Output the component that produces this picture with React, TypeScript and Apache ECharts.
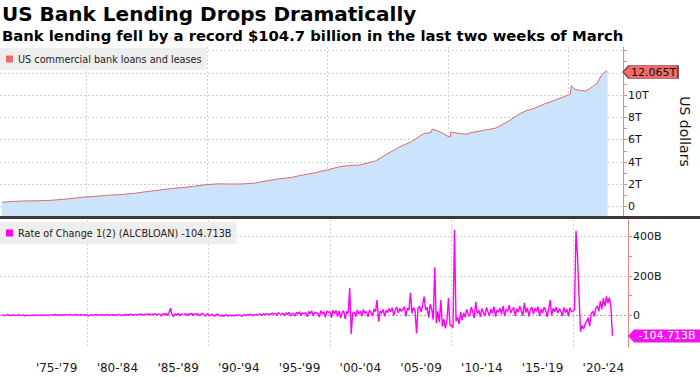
import React, { useEffect, useRef } from 'react';
import * as echarts from 'echarts';

const TITLE = 'US Bank Lending Drops Dramatically';
const SUBTITLE = 'Bank lending fell by a record $104.7 billion in the last two weeks of March';
const LOAN_NAME = 'US commercial bank loans and leases';
const ROC_NAME = 'Rate of Change 1(2) (ALCBLOAN) -104.713B';
const AXIS_NAME = 'US dollars';

// US commercial bank loans and leases, trillions of USD
const loanYears = [
  1973.0, 1974.0, 1975.0, 1976.0, 1977.0, 1978.0, 1979.0, 1980.0, 1981.0, 1982.0,
  1983.0, 1984.0, 1985.0, 1986.0, 1987.0, 1988.0, 1989.0, 1990.0, 1991.0, 1992.0,
  1993.0, 1994.0, 1995.0, 1996.0, 1997.0, 1998.0, 1999.0, 2000.0, 2001.0, 2001.7,
  2002.0, 2002.7, 2003.0, 2004.0, 2005.0, 2006.0, 2007.0, 2008.0, 2008.6, 2008.7,
  2009.0, 2009.5, 2010.0, 2010.2, 2010.25, 2011.0, 2011.5, 2012.0, 2013.0, 2014.0,
  2015.0, 2016.0, 2016.5, 2017.0, 2018.0, 2019.0, 2020.0, 2020.15, 2020.25, 2020.5,
  2021.0, 2021.5, 2022.0, 2022.4, 2022.75, 2023.15, 2023.25,
];
const loanValues = [
  0.40, 0.47, 0.52, 0.53, 0.57, 0.65, 0.76, 0.88, 0.95, 1.04,
  1.10, 1.20, 1.35, 1.48, 1.62, 1.72, 1.84, 1.98, 2.05, 2.03,
  2.04, 2.12, 2.32, 2.50, 2.62, 2.85, 3.05, 3.30, 3.58, 3.68,
  3.70, 3.74, 3.82, 4.10, 4.75, 5.35, 5.85, 6.55, 6.65, 6.95,
  6.85, 6.63, 6.30, 6.25, 6.70, 6.55, 6.50, 6.65, 6.85, 7.05,
  7.65, 8.35, 8.60, 8.75, 9.20, 9.60, 10.00, 10.05, 10.85, 10.55,
  10.40, 10.38, 10.75, 11.10, 11.80, 12.17, 12.065,
];

// Rate of change, billions of USD, 8 readings per year starting 1973
const rocStartYear = 1973;
const rocPerYear = 8;
const rocRows = [
  [3, 1, -2, 2, 4, 0, -1, 2], // 1973
  [2, -2, 1, 3, -1, 0, 2, -3],
  [-1, 1, -2, 0, 2, -1, 1, 0], // 1975
  [1, 2, -1, 3, 0, 2, 1, -1],
  [2, 3, 1, 4, 2, 0, 3, 1],
  [3, 1, 4, 2, 3, 5, 1, 2],
  [4, 2, 3, 1, 5, 2, 0, 3],
  [2, -3, 1, 4, -2, 3, 5, 1], // 1980
  [3, 1, 4, -1, 2, 5, 0, 3],
  [2, 4, -1, 3, 1, 5, 2, -2],
  [3, 5, 1, 4, 2, 6, 0, 4],
  [5, 2, 6, 3, 7, 1, 4, 6],
  [4, 7, 2, 8, 3, 9, 1, 6], // 1985
  [6, -4, 9, 3, 11, -2, 14, 36],
  [4, -6, 8, 2, 10, -3, 7, 5],
  [6, 9, -2, 8, 4, 11, -1, 7],
  [5, 8, -3, 6, 10, 2, -4, 7],
  [4, -3, 6, 1, -5, 3, 7, -2], // 1990
  [-4, 2, -6, 1, 3, -5, 2, -3],
  [1, -4, 3, -2, 4, -1, -5, 2],
  [3, -2, 5, 1, 6, -3, 4, 2],
  [5, 2, 8, -1, 7, 4, 9, 3],
  [8, 3, 12, 5, 10, -2, 14, 6], // 1995
  [6, 11, -3, 13, 4, 15, -5, 9],
  [10, -4, 16, 7, 18, -2, 12, 8],
  [14, -6, 20, 9, 22, -3, 17, 11],
  [12, -8, 24, 6, 19, -10, 21, 15],
  [18, -12, 26, 8, 25, -6, 22, -14], // 2000
  [14, 24, -18, 20, 9, 140, -95, 12],
  [16, -6, 28, 6, 22, -4, 30, 10],
  [20, -8, 26, 14, -4, 32, 18, 78],
  [-32, 22, 10, 30, -5, 26, 14, 34],
  [18, 38, -2, 28, 42, 12, 36, 20], // 2005
  [30, 44, -6, 36, 26, 115, 10, 40],
  [24, -92, 38, 46, 18, 52, 95, 28],
  [40, -12, 56, 30, -22, 244, -40, 20],
  [-35, 78, -58, -20, -66, -30, 88, -48],
  [-55, -62, 434, -30, -10, -44, 18, -25], // 2010
  [12, -10, 30, 5, -6, 42, 18, -14],
  [69, 8, 26, -8, 35, 14, -4, 40],
  [18, -2, 32, 10, 44, -6, 28, 16],
  [36, 6, 48, -4, 30, 20, 52, 12],
  [28, 40, -4, 34, 16, 46, 22, -2], // 2015
  [63, 14, 38, -6, 30, 42, 8, 36],
  [20, 44, -4, 32, 12, 40, 26, -8],
  [30, 78, -2, 36, 18, 42, 10, 34],
  [22, -4, 40, 14, 32, -6, 38, 18],
  [20, 28, 430, 298, 98, -83, -52, -70], // 2020
  [-45, -30, -12, -55, 8, 22, -6, 35],
  [48, 20, 72, 30, 88, 45, 96, 62],
  [90, 40, -104.713], // 2023
];

const xGridYears = [1980, 1990, 2000, 2010, 2020];
const xLabelPos = [1977.5, 1982.5, 1987.5, 1992.5, 1997.5, 2002.5, 2007.5, 2012.5, 2017.5, 2022.5];
const xLabels = ["'75-'79", "'80-'84", "'85-'89", "'90-'94", "'95-'99", "'00-'04", "'05-'09", "'10-'14", "'15-'19", "'20-'24"];

const loanTicks = [0, 1, 2, 3, 4, 5, 6, 7, 8, 9, 10, 11, 12, 13, 14];
const loanLabelTicks = [0, 2, 4, 6, 8, 10];
const rocTicks = [0, 100, 200, 300, 400];
const rocLabelTicks = [0, 200, 400];

const LAST_LOAN_LABEL = '12.065T';
const LAST_ROC_LABEL = '-104.713B';

const X_MIN = 1972.84;
const X_MAX = 2024.53;
const Y0_MIN = -0.833;
const Y0_MAX = 14.31;
const Y1_MIN = -161.3;
const Y1_MAX = 485;

const FONT = 'DejaVu Sans';
const RED = '#ee6b6b';
const AXIS_RED = '#f08282';
const MAGENTA = '#ff00ff';
const GRID = '#d2d2d2';

export default function App() {
  const ref = useRef<HTMLDivElement>(null);

  useEffect(() => {
    if (!ref.current) return;
    const chart = echarts.init(ref.current, undefined, { renderer: 'svg' });

    const loanData = loanYears.map((y, i) => [y, loanValues[i]]);
    const rocData: number[][] = [];
    rocRows.forEach((row, r) => {
      row.forEach((v, i) => {
        rocData.push([rocStartYear + r + i / rocPerYear, v]);
      });
    });
    const lastLoan = loanData[loanData.length - 1][1];
    const lastRoc = rocData[rocData.length - 1][1];

    const xBase = (gridIndex: number, showLabels: boolean) => ({
      gridIndex,
      type: 'value',
      min: X_MIN,
      max: X_MAX,
      axisLine: { show: false },
      axisTick: { show: false, customValues: xGridYears },
      axisLabel: showLabels
        ? {
            show: true,
            customValues: xLabelPos,
            margin: 15,
            fontSize: 12,
            color: '#1a1a1a',
            fontFamily: FONT,
            formatter: (v: number) => {
              const idx = xLabelPos.findIndex((p) => Math.abs(p - v) < 0.01);
              return idx >= 0 ? xLabels[idx] : '';
            },
          }
        : { show: false },
      splitLine: { show: true, lineStyle: { color: GRID, type: [2, 2], width: 1 } },
    });

    const legendBase = (name: string, top: number) => ({
      data: [name],
      left: 0,
      top,
      icon: 'rect',
      itemWidth: 7,
      itemHeight: 7,
      itemGap: 0,
      padding: [5, 5, 5, 6],
      backgroundColor: '#eeeeee',
      selectedMode: false,
      textStyle: { fontSize: 9.7, color: '#222', fontFamily: FONT, lineHeight: 12 },
    });

    const option: any = {
      animation: false,
      backgroundColor: '#ffffff',
      textStyle: { fontFamily: FONT },
      title: [
        {
          text: TITLE,
          left: 2,
          top: 4,
          padding: 0,
          textStyle: { fontFamily: FONT, fontSize: 20, fontWeight: 'bold', color: '#000' },
        },
        {
          text: SUBTITLE,
          left: 2,
          top: 28,
          padding: 0,
          textStyle: { fontFamily: FONT, fontSize: 14.8, fontWeight: 'bold', color: '#000' },
        },
      ],
      legend: [legendBase(LOAN_NAME, 48), legendBase(ROC_NAME, 222)],
      grid: [
        { left: 0, right: 72, top: 47, height: 169 },
        { left: 0, right: 72, top: 220, height: 127 },
      ],
      xAxis: [xBase(0, false), xBase(1, true)],
      yAxis: [
        {
          gridIndex: 0,
          type: 'value',
          position: 'right',
          min: Y0_MIN,
          max: Y0_MAX,
          axisLine: { show: true, lineStyle: { color: AXIS_RED, width: 1 } },
          axisTick: { show: true, customValues: loanTicks, length: 4, lineStyle: { color: AXIS_RED } },
          axisLabel: {
            customValues: loanLabelTicks,
            margin: 5,
            fontSize: 11,
            color: '#111',
            fontFamily: FONT,
            formatter: (v: number) => (v === 0 ? '0' : `${v}T`),
          },
          splitLine: { show: true, lineStyle: { color: [GRID, 'transparent'], type: [2, 2], width: 1 } },
          name: AXIS_NAME,
          nameLocation: 'middle',
          nameRotate: -90,
          nameGap: 55,
          nameTextStyle: { fontSize: 14, color: '#111', fontFamily: FONT },
        },
        {
          gridIndex: 1,
          type: 'value',
          position: 'right',
          min: Y1_MIN,
          max: Y1_MAX,
          axisLine: { show: true, lineStyle: { color: AXIS_RED, width: 1 } },
          axisTick: { show: true, customValues: rocTicks, length: 4, lineStyle: { color: AXIS_RED } },
          axisLabel: {
            customValues: rocLabelTicks,
            margin: 5,
            fontSize: 11,
            color: '#111',
            fontFamily: FONT,
            formatter: (v: number) => (v === 0 ? '0' : `${v}B`),
          },
          splitLine: {
            show: true,
            lineStyle: { color: ['#a8a8a8', 'transparent', GRID, 'transparent', GRID], type: [2, 2], width: 1 },
          },
        },
      ],
      graphic: [
        {
          type: 'rect',
          shape: { x: 0, y: 216, width: 700, height: 3 },
          style: { fill: '#3a3a3a' },
          z: 10,
          silent: true,
        },
      ],
      series: [
        {
          name: LOAN_NAME,
          type: 'line',
          xAxisIndex: 0,
          yAxisIndex: 0,
          data: loanData,
          symbol: 'none',
          showSymbol: false,
          lineStyle: { color: '#dc6a6a', width: 1 },
          itemStyle: { color: RED },
          areaStyle: { color: '#cbe3fb', opacity: 1, origin: 'start' },
          markPoint: {
            silent: true,
            symbol: 'path://M0,7L6,0L56,0L56,14L6,14Z',
            symbolSize: [55, 13],
            symbolOffset: [27.5, 0],
            itemStyle: { color: '#f36a6a', borderColor: '#6a3434', borderWidth: 0.8 },
            label: {
              show: true,
              position: 'inside',
              offset: [3, 0],
              formatter: LAST_LOAN_LABEL,
              color: '#111',
              fontSize: 11,
              fontFamily: FONT,
            },
            data: [{ coord: [X_MAX, lastLoan] }],
          },
        },
        {
          name: ROC_NAME,
          type: 'line',
          xAxisIndex: 1,
          yAxisIndex: 1,
          data: rocData,
          symbol: 'none',
          showSymbol: false,
          lineStyle: { color: MAGENTA, width: 1.4 },
          itemStyle: { color: MAGENTA },
          markPoint: {
            silent: true,
            symbol: 'path://M0,7L6,0L74,0L74,14L6,14Z',
            symbolSize: [74, 13],
            symbolOffset: [37, 0],
            itemStyle: { color: '#f014f0' },
            label: {
              show: true,
              position: 'inside',
              offset: [2, 0],
              formatter: LAST_ROC_LABEL,
              color: '#ffffff',
              fontSize: 11,
              fontFamily: FONT,
            },
            data: [{ coord: [X_MAX, lastRoc] }],
          },
        },
      ],
    };

    chart.setOption(option);
    return () => chart.dispose();
  }, []);

  return (
    <div
      ref={ref}
      style={{ position: 'absolute', left: 0, top: 0, width: 700, height: 377, background: '#fff' }}
    />
  );
}
